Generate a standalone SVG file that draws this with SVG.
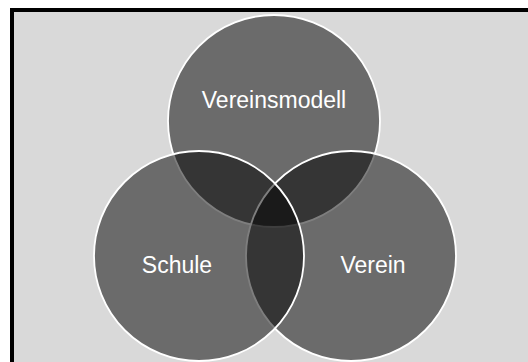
<svg xmlns="http://www.w3.org/2000/svg" width="528" height="362" viewBox="0 0 528 362">
<style>
.c{fill:#000;fill-opacity:0.507;stroke:#fff;stroke-width:1.8}
.t{font-family:"Liberation Sans",Arial,sans-serif;font-size:23px;fill:#fff;text-anchor:middle}
</style>
<rect width="528" height="362" fill="#fff"/>
<rect x="12" y="10" width="530" height="370" fill="#d9d9d9" stroke="#000" stroke-width="4"/>
<g id="vereinsmodell">
<circle class="c" cx="274" cy="121" r="106"/>
</g>
<g id="verein">
<circle class="c" cx="351" cy="256" r="105"/>
</g>
<g id="schule">
<circle class="c" cx="199" cy="256" r="105"/>
</g>
<g id="labels">
<text class="t" x="274" y="108">Vereinsmodell</text>
<text class="t" x="177" y="273">Schule</text>
<text class="t" x="373" y="273">Verein</text>
</g>
<g id="connectors"/>
</svg>
